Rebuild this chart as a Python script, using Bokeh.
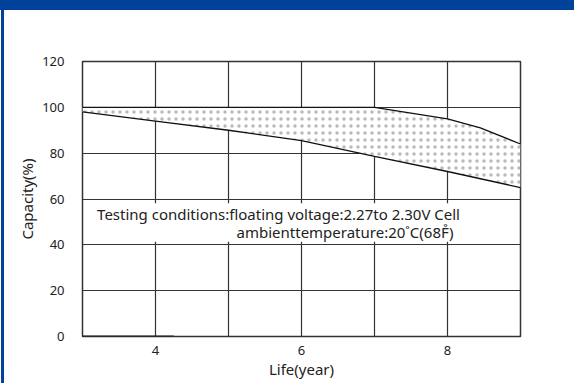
from bokeh.plotting import figure
from bokeh.models import FixedTicker, BoxAnnotation, Label, Div, Range1d
from bokeh.layouts import column, row
from bokeh.embed import file_html
from bokeh.resources import INLINE

# ---- data ----
years_ticks = [4, 6, 8]
grid_years = [3, 4, 5, 6, 7, 8, 9]
capacity_ticks = [0, 20, 40, 60, 80, 100, 120]

upper_x = [3, 7, 8, 8.45, 9]
upper_y = [100, 100, 95, 91, 84]
lower_x = [3, 4, 5, 6, 7, 8, 9]
lower_y = [98, 94, 90, 85.5, 78.6, 72, 65]
zero_x = [3, 4.25]
zero_y = [0, 0]

note_line1 = "Testing conditions:floating voltage:2.27to 2.30V  Cell"
note_line2 = "ambienttemperature:20\u02daC(68F\u030a)"

FONT = "Noto Sans"
BLUE = "#00419A"

p = figure(width=570, height=373, output_backend="svg", toolbar_location=None,
           x_range=Range1d(3, 9), y_range=Range1d(0, 120),
           min_border_left=78, min_border_right=54, min_border_top=51, min_border_bottom=47)
p.background_fill_color = "white"
p.border_fill_color = "white"
p.outline_line_color = "#333333"
p.outline_line_width = 1.5

p.xaxis.ticker = FixedTicker(ticks=years_ticks)
p.yaxis.ticker = FixedTicker(ticks=capacity_ticks)
p.xgrid.ticker = FixedTicker(ticks=grid_years)
p.ygrid.ticker = FixedTicker(ticks=capacity_ticks)
for g in (p.xgrid, p.ygrid):
    g.grid_line_color = "#333333"
    g.grid_line_width = 1.2
    g.grid_line_alpha = 1

for ax in (p.xaxis, p.yaxis):
    ax.axis_line_color = None
    ax.major_tick_line_color = None
    ax.minor_tick_line_color = None
    ax.major_label_text_font = FONT
    ax.major_label_text_font_size = "13px"
    ax.major_label_text_color = "#222222"
    ax.axis_label_text_font = FONT
    ax.axis_label_text_font_size = "15px"
    ax.axis_label_text_font_style = "normal"
    ax.axis_label_text_color = "#222222"

p.xaxis.axis_label = "Life(year)"
p.yaxis.axis_label = "Capacity(%)"
p.xaxis.major_label_standoff = 3
p.xaxis.axis_label_standoff = 1
p.yaxis.major_label_standoff = 12
p.yaxis.axis_label_standoff = 2

# stippled band between the curves
band_x = upper_x + lower_x[::-1]
band_y = upper_y + lower_y[::-1]
p.patch(band_x, band_y, fill_color="white", line_color=None,
        hatch_pattern="dot", hatch_color="#a8a8a8", hatch_scale=7, hatch_weight=1, hatch_alpha=0.8)

p.line(upper_x, upper_y, line_color="#111111", line_width=1.3)
p.line(lower_x, lower_y, line_color="#111111", line_width=1.3)
p.line(zero_x, zero_y, line_color="#222222", line_width=2)

# white background behind the note
p.add_layout(BoxAnnotation(left=3.02, right=8.98, bottom=41.3, top=58.2,
                           fill_color="white", fill_alpha=1, line_color=None))

p.add_layout(Label(x=3.2, y=53.3, text=note_line1, text_font=FONT, text_font_size="15px",
                   text_color="#222222", text_baseline="middle"))
p.add_layout(Label(x=5.11, y=45.4, text=note_line2, text_font=FONT, text_font_size="15px",
                   text_color="#222222", text_baseline="middle"))

banner = Div(width=574, height=10, margin=0, styles={"background-color": BLUE})
stripe = Div(width=4, height=373, margin=0,
             styles={"background": "linear-gradient(to right, white 0px, white 1px, %s 1px, %s 4px)" % (BLUE, BLUE)})
p.margin = 0
layout = column(banner, row(stripe, p, spacing=0, margin=0), spacing=0, margin=0)

open("out.html", "w").write(file_html(layout, INLINE))
